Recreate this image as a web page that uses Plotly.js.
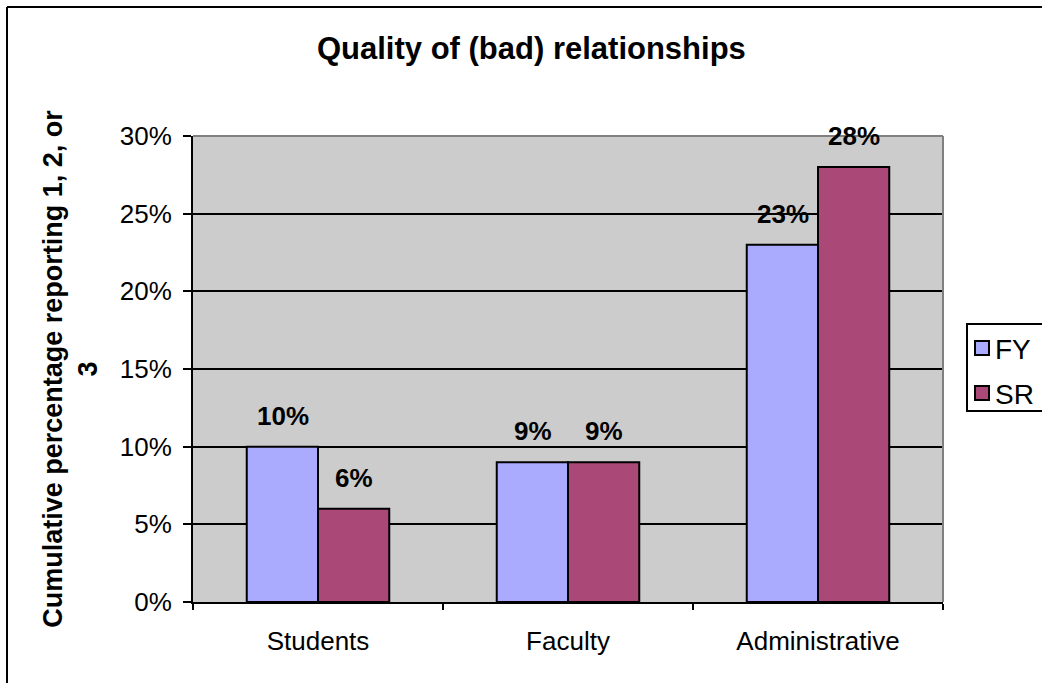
<!DOCTYPE html>
<html>
<head>
<meta charset="utf-8">
<script src="https://cdn.plot.ly/plotly-3.0.1.min.js"></script>
<style>
html,body{margin:0;padding:0;background:#fff;}
#chart{width:1042px;height:683px;}
</style>
</head>
<body>
<div id="chart"></div>
<script>
const categories = ["Students", "Faculty", "Administrative"];
const seriesNames = ["FY", "SR"];
const fyValues = [0.10, 0.09, 0.23];
const srValues = [0.06, 0.09, 0.28];
const yTickVals = [0, 0.05, 0.10, 0.15, 0.20, 0.25, 0.30];
const yTickText = ["0%", "5%", "10%", "15%", "20%", "25%", "30%"];

const colors = ["#AAAAFF", "#AA4877"];
const allValues = [fyValues, srValues];

const FONT = "Liberation Sans, Arial, sans-serif";

// plot-area geometry in pixels (for positioning the frame and the legend box)
const PL = 193, PR = 943, PT = 136, PB = 602;
const px2x = p => (p - PL) / (PR - PL);
const px2y = p => (PB - p) / (PB - PT);

const traces = allValues.map((vals, i) => ({
  type: "bar",
  name: seriesNames[i],
  x: categories,
  y: vals,
  marker: {color: colors[i], line: {color: "#000", width: 2}},
  hoverinfo: "none",
  showlegend: false
}));

const annotations = [];
allValues.forEach((vals, i) => {
  vals.forEach((v, j) => {
    annotations.push({
      x: categories[j], y: v, xref: "x", yref: "y",
      text: "<b>" + Math.round(v * 100) + "%</b>",
      showarrow: false, yanchor: "bottom",
      xshift: (i === 0 ? -35.5 : 35.5), yshift: 14,
      font: {family: FONT, size: 26, color: "#000"}
    });
  });
});

// custom legend (box partly off the right edge, as in the reference)
const legendRows = [348, 393];
const shapes = [
  {type: "line", xref: "paper", yref: "paper", x0: 0, x1: 1, y0: 1, y1: 1,
   line: {color: "#808080", width: 2}, layer: "above"},
  {type: "line", xref: "paper", yref: "paper", x0: 1, x1: 1, y0: 0, y1: 1,
   line: {color: "#808080", width: 2}, layer: "above"},
  {type: "line", xref: "paper", yref: "paper",
   x0: px2x(7), x1: px2x(1100), y0: px2y(7), y1: px2y(7),
   line: {color: "#000", width: 2}},
  {type: "line", xref: "paper", yref: "paper",
   x0: px2x(7), x1: px2x(7), y0: px2y(7), y1: px2y(760),
   line: {color: "#000", width: 2}},
  {type: "rect", xref: "paper", yref: "paper",
   x0: px2x(967), x1: px2x(1100), y0: px2y(324), y1: px2y(411),
   line: {color: "#000", width: 2}, fillcolor: "#fff"}
];
seriesNames.forEach((name, i) => {
  const cy = legendRows[i];
  shapes.push({type: "rect", xref: "paper", yref: "paper",
    x0: px2x(975), x1: px2x(989), y0: px2y(cy - 7), y1: px2y(cy + 7),
    line: {color: "#000", width: 2}, fillcolor: colors[i]});
  annotations.push({
    xref: "paper", yref: "paper", x: px2x(993), y: px2y(cy + 1),
    xanchor: "left", yanchor: "middle", showarrow: false,
    text: name, font: {family: FONT, size: 28, color: "#000"}
  });
});

const layout = {
  width: 1042, height: 683,
  margin: {l: PL, r: 1042 - PR, t: PT, b: 683 - PB},
  paper_bgcolor: "#fff",
  plot_bgcolor: "#CCCCCC",
  font: {family: FONT, size: 27, color: "#000"},
  title: {
    text: "<b>Quality of (bad) relationships</b>",
    x: 0.51, xanchor: "center", y: 0.93, yanchor: "middle",
    font: {size: 31, color: "#000"}
  },
  barmode: "group",
  bargap: 0.43,
  bargroupgap: 0,
  showlegend: false,
  xaxis: {
    type: "category",
    showline: true, linecolor: "#000", linewidth: 2,
    ticks: "outside", tickson: "boundaries", ticklen: 6, tickwidth: 2, tickcolor: "#000",
    showgrid: false, zeroline: false,
    tickfont: {size: 26, color: "#000"},
    ticklabelstandoff: 15,
    automargin: false,
    fixedrange: true
  },
  yaxis: {
    range: [0, 0.30],
    tickvals: yTickVals, ticktext: yTickText,
    showline: true, linecolor: "#000", linewidth: 2,
    ticks: "outside", ticklen: 8, tickwidth: 2, tickcolor: "#000",
    showgrid: true, gridcolor: "#000", gridwidth: 2,
    zeroline: false,
    tickfont: {size: 26, color: "#000"},
    ticklabelstandoff: 6,
    title: {
      text: "<b>Cumulative percentage reporting 1, 2, or<br>3</b>",
      font: {size: 27, color: "#000"},
      standoff: 14
    },
    automargin: false,
    fixedrange: true
  },
  annotations: annotations,
  shapes: shapes
};

Plotly.newPlot("chart", traces, layout, {displayModeBar: false, staticPlot: true});
</script>
</body>
</html>
